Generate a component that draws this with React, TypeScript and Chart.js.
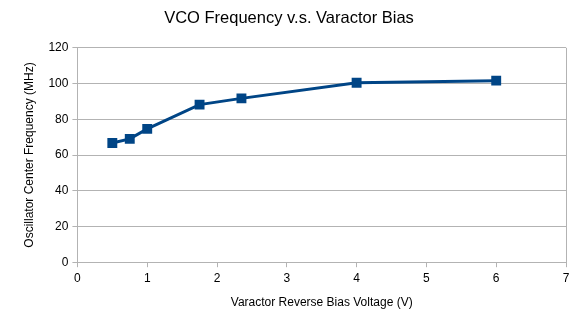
import React, { useEffect, useRef } from "react";
import { Chart, registerables } from "chart.js";

Chart.register(...registerables);

const biasVoltage = [0.5, 0.75, 1, 1.75, 2.35, 4, 6];
const frequencyMHz = [66.7, 69.0, 74.6, 88.2, 91.7, 100.4, 101.6];

const chartTitle = "VCO Frequency v.s. Varactor Bias";
const xTitle = "Varactor Reverse Bias Voltage (V)";
const yTitle = "Oscillator Center Frequency (MHz)";

const GRID = "#b3b3b3";
const BLUE = "#004586";
const FONT = "'Liberation Sans', Arial, sans-serif";

export default function App() {
  const ref = useRef<HTMLCanvasElement | null>(null);
  useEffect(() => {
    if (!ref.current) return;
    const chart = new Chart(ref.current, {
      type: "scatter",
      data: {
        datasets: [
          {
            data: biasVoltage.map((x, i) => ({ x, y: frequencyMHz[i] })),
            showLine: true,
            borderColor: BLUE,
            backgroundColor: BLUE,
            borderWidth: 3,
            pointStyle: "rect",
            pointRadius: 7,
            pointBorderWidth: 0,
            tension: 0,
          },
        ],
      },
      options: {
        responsive: false,
        animation: false,
        layout: { padding: { top: 1, right: 8, bottom: 10, left: 12 } },
        plugins: {
          legend: { display: false },
          tooltip: { enabled: false },
          title: {
            display: true,
            text: chartTitle,
            color: "#000",
            font: { family: FONT, size: 16.5, weight: "normal" },
            padding: { top: 8, bottom: 19 },
          },
        },
        scales: {
          x: {
            type: "linear",
            min: 0,
            max: 7,
            ticks: {
              stepSize: 1,
              color: "#000",
              font: { family: FONT, size: 12 },
              padding: 4,
            },
            grid: {
              color: (ctx: any) => (ctx.tick && ctx.tick.value === 7 ? GRID : "rgba(0,0,0,0)"),
              tickColor: GRID,
              tickLength: 5,
              lineWidth: 1,
            },
            border: { color: GRID, width: 1 },
            title: {
              display: true,
              text: xTitle,
              color: "#000",
              font: { family: FONT, size: 12 },
              padding: { top: 6, bottom: 0 },
            },
          },
          y: {
            min: 0,
            max: 120,
            ticks: {
              stepSize: 20,
              color: "#000",
              font: { family: FONT, size: 12 },
              padding: 4,
            },
            grid: { color: GRID, tickColor: GRID, tickLength: 5, lineWidth: 1 },
            border: { color: GRID, width: 1 },
            title: {
              display: true,
              text: yTitle,
              color: "#000",
              font: { family: FONT, size: 12 },
              padding: { top: 10, bottom: 8 },
            },
          },
        },
      },
    });
    return () => chart.destroy();
  }, []);
  return (
    <div style={{ position: "absolute", left: 0, top: 0, width: 574, height: 320, background: "#fff" }}>
      <canvas ref={ref} width={574} height={320} style={{ display: "block" }} />
    </div>
  );
}
